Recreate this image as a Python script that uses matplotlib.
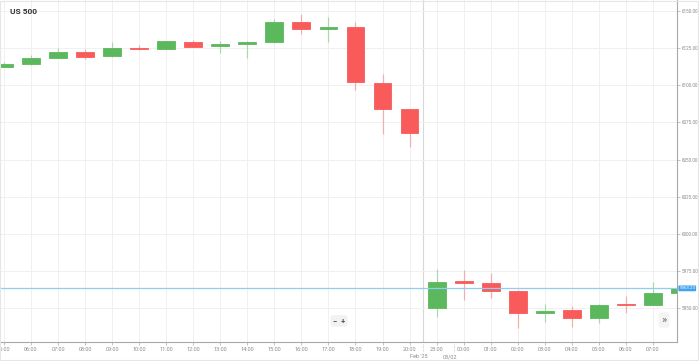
import numpy as np
import matplotlib
matplotlib.use("Agg")
import matplotlib.pyplot as plt
from matplotlib.transforms import blended_transform_factory

plt.rcParams['font.family'] = ['Roboto', 'DejaVu Sans']

# hourly candles, US 500
hours = ['05:00', '06:00', '07:00', '08:00', '09:00', '10:00', '11:00', '12:00',
         '13:00', '14:00', '15:00', '16:00', '17:00', '18:00', '19:00', '20:00',
         '23:00', '00:00', '01:00', '02:00', '03:00', '04:00', '05:00', '06:00',
         '07:00', '08:00']
opens = [6112.6, 6114.2, 6118.7, 6122.7, 6119.6, 6125.4, 6124.5, 6129.4,
         6126.3, 6127.7, 6129.0, 6142.9, 6137.8, 6139.6, 6101.8, 6083.9,
         5950.2, 5968.2, 5967.0, 5961.7, 5946.8, 5948.5, 5943.3, 5952.5,
         5952.0, 5960.1]
highs = [6115.4, 6120.5, 6125.4, 6124.5, 6129.0, 6127.4, 6130.2, 6130.3,
         6130.1, 6129.6, 6144.7, 6148.1, 6145.9, 6142.5, 6107.5, 6084.2,
         5976.3, 5975.6, 5973.8, 5962.0, 5952.5, 5951.3, 5952.5, 5958.3,
         5967.5, 5963.5]
lows = [6112.4, 6113.7, 6118.5, 6117.6, 6119.3, 6123.9, 6124.3, 6125.8,
        6122.0, 6118.3, 6128.8, 6134.6, 6129.0, 6096.7, 6067.5, 6058.5,
        5944.1, 5955.4, 5956.5, 5936.3, 5940.8, 5937.0, 5940.1, 5946.8,
        5951.8, 5959.8]
closes = [6114.6, 6118.5, 6122.7, 6118.9, 6125.0, 6124.3, 6129.9, 6126.1,
          6127.9, 6129.4, 6142.9, 6137.8, 6139.6, 6102.5, 6084.3, 6068.1,
          5967.7, 5967.0, 5961.7, 5946.8, 5948.2, 5943.3, 5952.2, 5951.8,
          5959.9, 5963.23]
last_price = 5963.23
y_ticks = [5950, 5975, 6000, 6025, 6050, 6075, 6100, 6125, 6150]
session_break = 15.5
date_labels = [("Feb '25", 15.35), ("03/02", 16.5)]

GREEN = '#5cb85c'
RED = '#f95b5b'
GRID = '#f0f0f0'
TXT = '#8a8a8a'

W, H = 699, 361
fig = plt.figure(figsize=(W / 100, H / 100), dpi=100)
ax = fig.add_axes([0, 19 / H, 677 / W, 1 - 19 / H])

x = np.arange(len(hours))
o = np.array(opens)
c = np.array(closes)
up = c >= o
cols = [GREEN if u else RED for u in up]

# wicks
ax.vlines(x, lows, highs, colors=cols, linewidth=0.9, alpha=0.45, zorder=2)
# bodies
body_h = np.maximum(np.abs(c - o), 0.9)
ax.bar(x, body_h, bottom=np.minimum(o, c), width=0.66, color=cols,
       edgecolor=cols, linewidth=0.6, zorder=3)

# last price line
ax.axhline(last_price, color='#8fcdf2', linewidth=0.9, zorder=4)
ax.axvline(session_break, color='#d8d8d8', linewidth=0.8, zorder=1)

ax.set_xlim(-0.146, 24.89)
ax.set_ylim(5927.1, 6157.5)

ax.set_xticks(x[:-1])
ax.set_xticklabels(hours[:-1])
ax.set_yticks(y_ticks)
ax.set_yticklabels([f'{v:.2f}' for v in y_ticks])
ax.yaxis.tick_right()
ax.tick_params(axis='x', labelsize=4, colors='#aaaaaa', labelcolor=TXT,
               length=2, width=0.5, pad=1.5)
ax.tick_params(axis='y', labelsize=3.3, colors='#aaaaaa', labelcolor=TXT,
               length=2, width=0.5, pad=1.2)
ax.grid(True, color=GRID, linewidth=0.7, zorder=0)

for s in ['top', 'left']:
    ax.spines[s].set_visible(False)
for s in ['right', 'bottom']:
    ax.spines[s].set_color('#a8a8a8')
    ax.spines[s].set_linewidth(0.8)

# price tag on the right axis
ax.annotate(f'{last_price:.2f}', xy=(1.0, last_price),
            xycoords=('axes fraction', 'data'), xytext=(1.6, 0),
            textcoords='offset points', va='center', ha='left', fontsize=3.2,
            color='white',
            bbox=dict(boxstyle='round,pad=0.2', fc='#3fa3ee', ec='none'))

# dates under the session break
trans = blended_transform_factory(ax.transData, ax.transAxes)
for lab, pos in date_labels:
    ax.text(pos, -0.036, lab, transform=trans, ha='center', va='top',
            fontsize=4, color=TXT)
    ax.plot([pos + 0.15 if pos > 16 else session_break] * 2, [-0.005, -0.03],
            transform=trans, color='#bbbbbb', linewidth=0.5, linestyle=(0, (1, 1)),
            clip_on=False)

# title
fig.text(10 / W, 1 - 12 / H, 'US 500', fontsize=6, fontweight='bold',
         color='#333333', va='center', ha='left')

# zoom buttons
fig.text(339 / W, 1 - 321 / H, '\u2212  +', fontsize=5.5, fontweight='bold',
         color='#555555', ha='center', va='center',
         bbox=dict(boxstyle='round,pad=0.3', fc='#f2f2f2', ec='none'))
fig.text(664 / W, 1 - 320 / H, '\u00bb', fontsize=8, color='#666666',
         ha='center', va='center',
         bbox=dict(boxstyle='round,pad=0.25', fc='#f4f4f4', ec='none'))

# faint frame
fig.patches.append(plt.Rectangle((0, 0.002), 0.999, 0.996, transform=fig.transFigure,
                                 fill=False, ec='#e6e6e6', lw=0.8))

fig.savefig('out.png', dpi=100)
